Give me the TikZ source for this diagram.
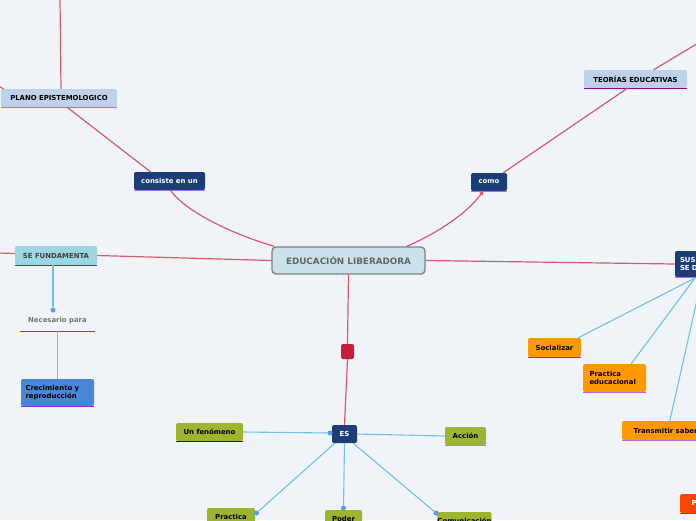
\documentclass[tikz,border=0pt]{standalone}
\usepackage{fontspec}
\setmainfont{DejaVu Sans}
\usetikzlibrary{arrows.meta}
\definecolor{bgc}{HTML}{F0F4F9}
\definecolor{dblue}{HTML}{1B3F75}
\definecolor{lblue}{HTML}{BDD1EA}
\definecolor{cyanb}{HTML}{9DD5E3}
\definecolor{orangeb}{HTML}{FF9900}
\definecolor{greenb}{HTML}{9DB52E}
\definecolor{redl}{HTML}{D9596B}
\definecolor{bluel}{HTML}{6EC1E8}
\definecolor{ulp}{HTML}{B266FF}
\definecolor{ulv}{HTML}{8A2BE2}
\definecolor{cenfill}{HTML}{C9E2EC}
\definecolor{redsq}{HTML}{C41E3A}
\definecolor{peb}{HTML}{FF4500}
\definecolor{crecb}{HTML}{4A86D8}
\tikzset{
  box/.style={rounded corners=2pt, inner sep=0pt, font=\fontsize{6.9}{8.6}\selectfont\bfseries, align=center},
  dbox/.style={box, fill=dblue, text=white},
  lbox/.style={box, fill=lblue, text=black},
  obox/.style={box, fill=orangeb, text=black},
  gbox/.style={box, fill=greenb, text=black},
  rline/.style={draw=redl, line width=1.2pt},
  bline/.style={draw=bluel, line width=1.1pt},
  uline/.style={line width=1.3pt},
  dot/.style={circle, fill=bluel!80!blue, inner sep=0pt, minimum size=5pt}
}
\begin{document}
\begin{tikzpicture}[x=1pt,y=-1pt]
\useasboundingbox (0,0) rectangle (696,520);
\clip (0,0) rectangle (696,520);
\fill[bgc] (0,0) rectangle (696,520);

% nodes
\node[box, fill=cenfill, draw=black!50, line width=1.3pt, rounded corners=4pt, text=black!60,
      minimum width=153pt, minimum height=27pt, font=\fontsize{8.8}{10}\selectfont\bfseries] (central) at (348.5,260.5) {EDUCACIÓN LIBERADORA};
\node[lbox, minimum width=116pt, minimum height=18pt] (plano) at (59,98) {PLANO EPISTEMOLOGICO};
\node[dbox, minimum width=71pt, minimum height=18pt] (consiste) at (169.5,181) {consiste en un};
\node[dbox, minimum width=36pt, minimum height=18pt] (como) at (489,182) {como};
\node[lbox, minimum width=103pt, minimum height=18pt] (teorias) at (635.5,79) {TEORÍAS EDUCATIVAS};
\node[box, fill=cyanb, text=black!75, minimum width=82pt, minimum height=19pt] (sefund) at (56,255.5) {SE FUNDAMENTA};
\node[box, text=black!55, minimum width=75pt, minimum height=20pt] (necesario) at (57.5,321) {Necesario para};
\node[box, fill=crecb, text=black, minimum width=73pt, minimum height=27pt, align=left, text width=64pt] (crec) at (57.5,392.5) {Crecimiento y\\reproducción};
\node[dbox, minimum width=52pt, minimum height=26pt, align=left, text width=42pt] (sus) at (701,264) {SUS FINES\\SE DAN};
\node[obox, minimum width=53pt, minimum height=19pt] (social) at (554.5,347.5) {Socializar};
\node[obox, minimum width=63pt, minimum height=28pt, align=left, text width=50pt] (practed) at (614.5,378) {Practica\\educacional};
\node[obox, minimum width=96pt, minimum height=19pt] (transm) at (670,430.5) {Transmitir saberes};
\node[box, fill=peb, text=white, minimum width=50pt, minimum height=19pt] (pe) at (705,503.5) {Pensar};
\node[dbox, minimum width=25pt, minimum height=18pt] (es) at (344.5,434) {ES};
\node[box, fill=redsq, minimum width=13pt, minimum height=15pt] (sq) at (347.5,351.5) {};
\node[gbox, minimum width=67pt, minimum height=18pt] (fenom) at (209.5,432) {Un fenómeno};
\node[gbox, minimum width=41pt, minimum height=18pt] (accion) at (465.5,436) {Acción};
\node[gbox, minimum width=48pt, minimum height=18pt] (practica) at (231,517) {Practica};
\node[gbox, minimum width=37pt, minimum height=18pt] (poder) at (343.5,519) {Poder};
\node[gbox, minimum width=53pt, minimum height=18pt] (comun) at (464.5,521) {Comunicación};

% underlines
\draw[uline, ulp] (plano.south west) -- (plano.south east);
\draw[uline, ulp] (consiste.south west) -- (consiste.south east);
\draw[uline, ulp] (como.south west) -- (como.south east);
\draw[uline, violet!80!magenta] (teorias.south west) -- (teorias.south east);
\draw[uline, blue!80] (sefund.south west) -- (sefund.south east);
\draw[uline, ulv!70!blue!90] (necesario.south west) -- (necesario.south east);
\draw[uline, ulv] (crec.south west) -- (crec.south east);
\draw[uline, ulp] (sus.south west) -- (sus.south east);
\draw[uline, ulv] (social.south west) -- (social.south east);
\draw[uline, ulp] (practed.south west) -- (practed.south east);
\draw[uline, ulp] (transm.south west) -- (transm.south east);
\draw[uline, ulv] (pe.south west) -- (pe.south east);
\draw[uline, blue] (fenom.south west) -- (fenom.south east);
\draw[uline, blue!45] (accion.south west) -- (accion.south east);

% coordinates for free ends
\coordinate (topA) at (60,-2);
\coordinate (leftA) at (-2,86);
\coordinate (leftB) at (-2,253);
\coordinate (topB) at (700,42);
\coordinate (susA) at (695,278);
\coordinate (susB) at (697,300);

% red connectors
\draw[rline] ([xshift=3pt]central.north west) .. controls (225,232) and (182,208) .. ([xshift=1pt]consiste.south);
\draw[rline] ([xshift=-19pt]consiste.north) -- ([xshift=8pt]plano.south);
\draw[rline] ([xshift=2pt]plano.north) -- (topA);
\draw[rline] ([xshift=3pt]plano.north west) -- (leftA);
\draw[rline, -{Latex[length=5pt,width=5pt]}] ([xshift=-19pt]central.north east) .. controls (440,232) and (468,212) .. ([xshift=-5pt,yshift=1pt]como.south);
\draw[rline] ([xshift=-4pt]como.north east) -- ([xshift=-8pt]teorias.south);
\draw[rline] ([xshift=18pt]teorias.north) -- (topB);
\draw[rline] (central.west) -- (sefund.east);
\draw[rline] ([yshift=2pt]sefund.west) -- (leftB);
\draw[rline] (central.east) -- (sus.west);
\draw[rline] (central.south) -- (sq.north);
\draw[rline] (sq.south) -- (es.north);

% blue connectors
\node[dot] (d1) at (53,310) {};
\draw[bline] ([xshift=-3pt]sefund.south) -- (d1);
\draw[bline] (necesario.south) -- (crec.north);
\node[dot] (d2) at (330,433) {};
\draw[bline] (fenom.east) -- (d2);
\draw[bline] (es.east) -- (accion.west);
\node[dot] (d3) at (256.5,513) {};
\draw[bline] ([xshift=3pt]es.south west) -- (d3);
\node[dot] (d4) at (343.5,508) {};
\draw[bline] (es.south) -- (d4);
\node[dot] (d5) at (436,513) {};
\draw[bline] ([xshift=-4pt]es.south east) -- (d5);
\draw[bline] (susA) -- ([xshift=-3pt]social.north east);
\draw[bline] (susA) -- ([xshift=-15pt]practed.north east);
\draw[bline] (susB) -- ([xshift=48pt]transm.north west);
\end{tikzpicture}
\end{document}
